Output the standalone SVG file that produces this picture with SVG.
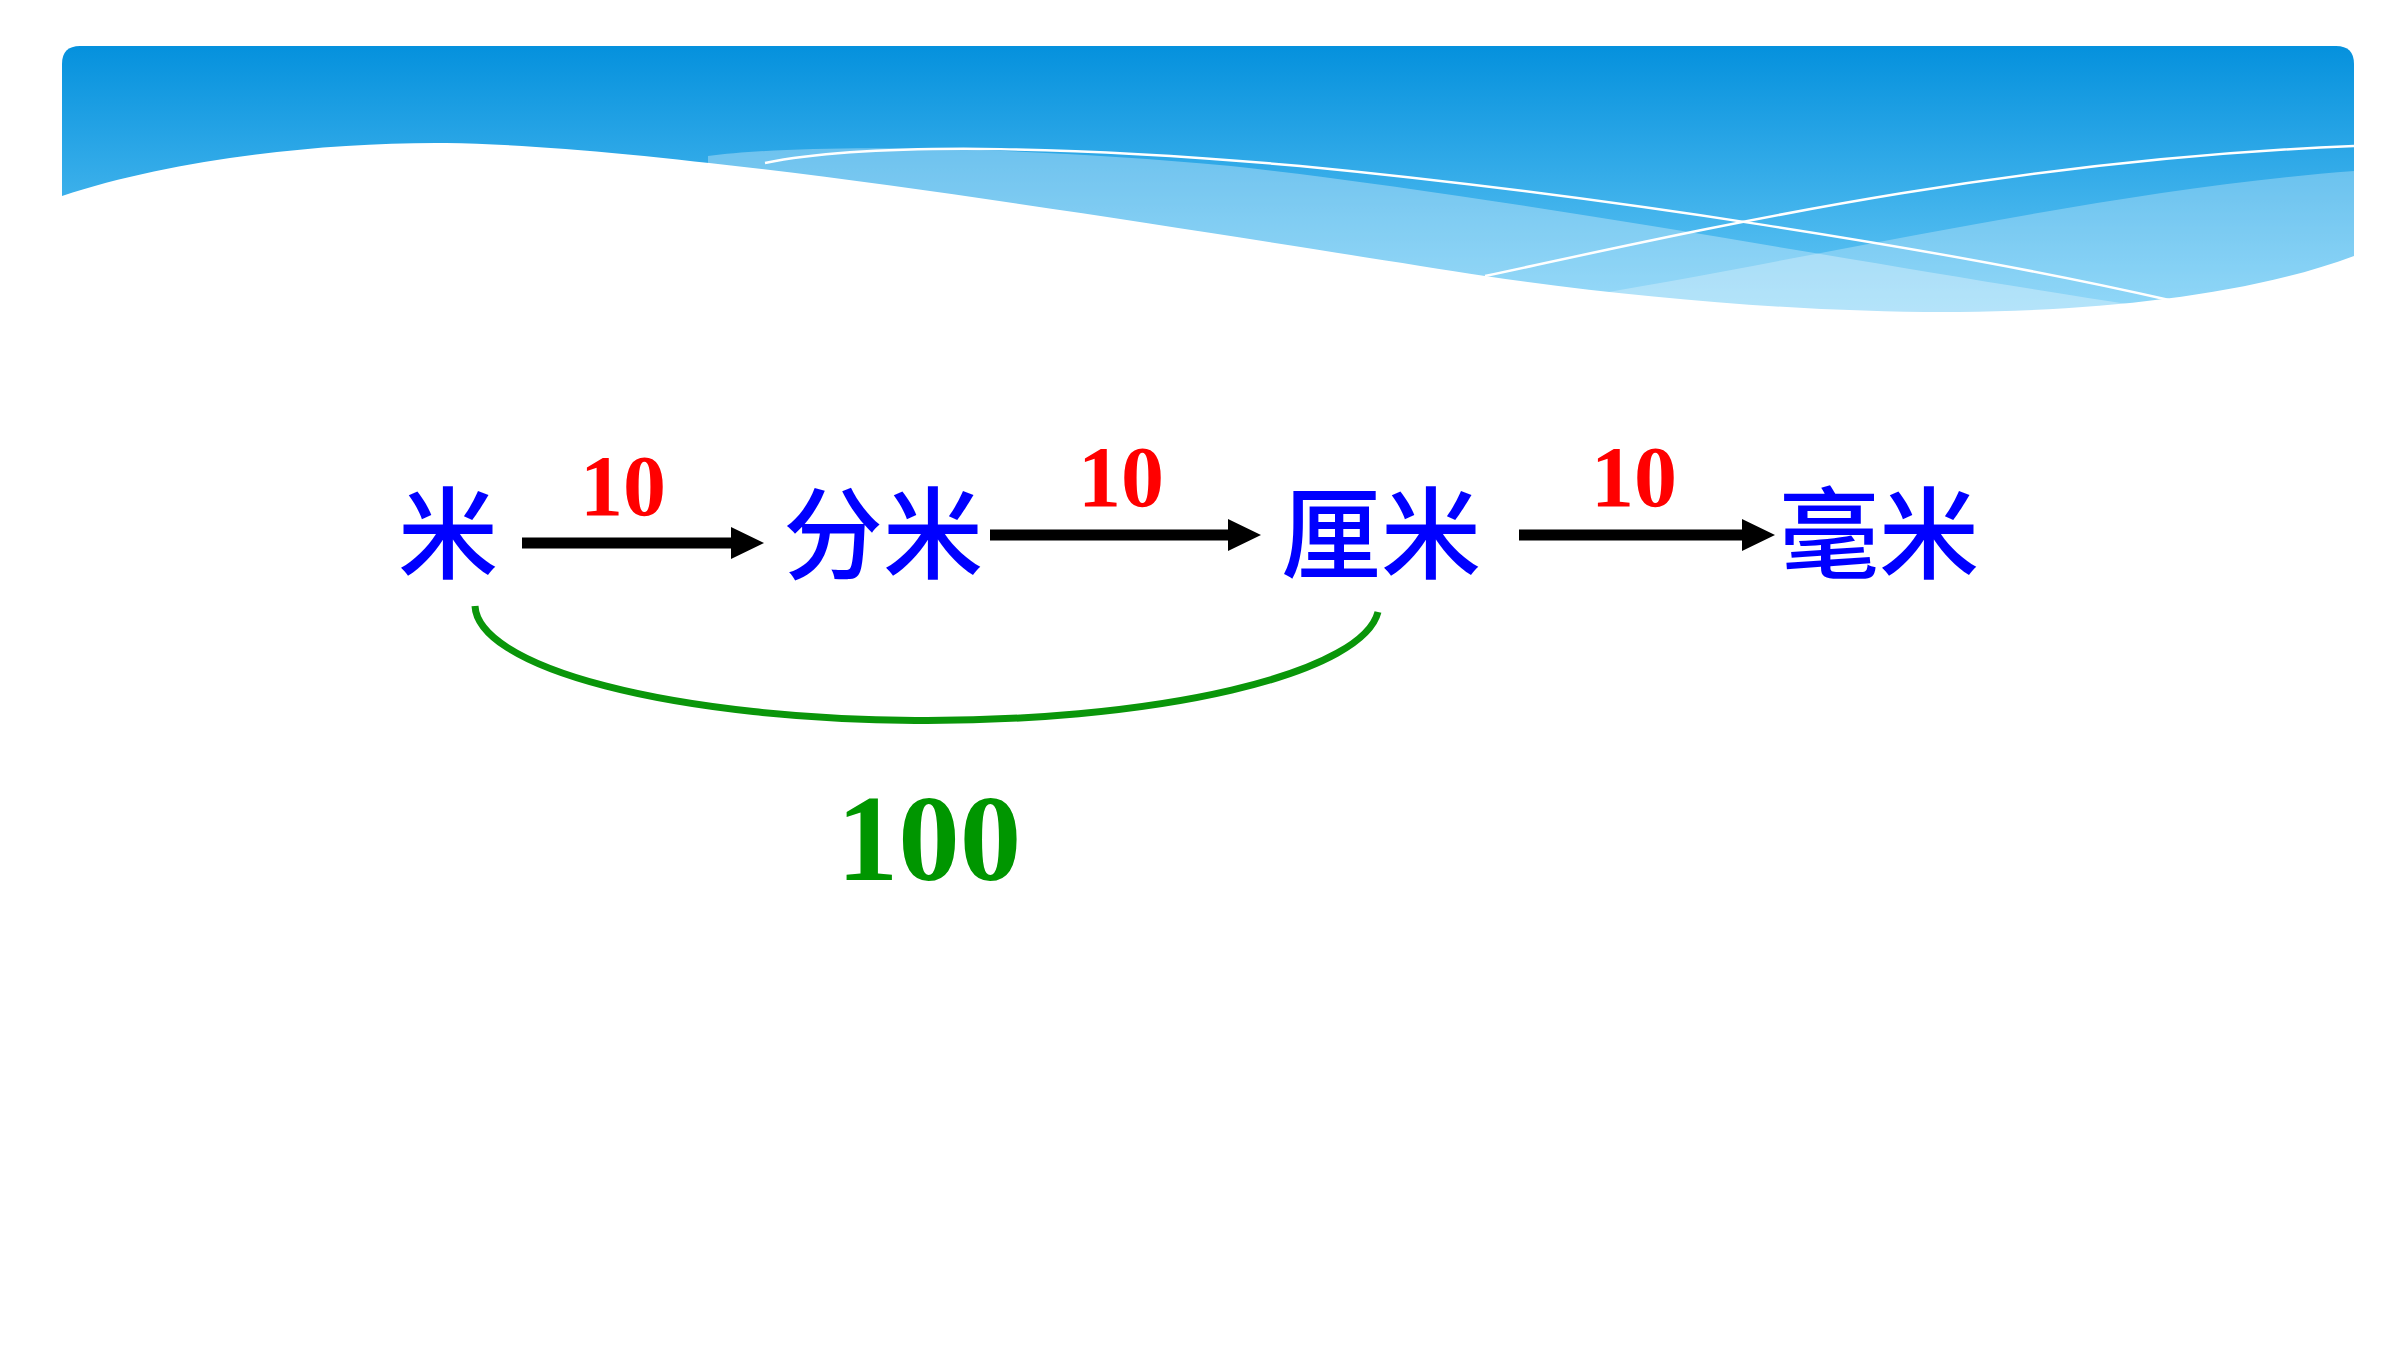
<svg xmlns="http://www.w3.org/2000/svg" width="2400" height="1350" viewBox="0 0 2400 1350">
<style>
.node{font-family:"Noto Sans CJK SC","Noto Sans",sans-serif;font-size:100px;font-weight:500;fill:#0000FF;text-anchor:middle}
.lbl{font-family:"Liberation Serif","Times New Roman",serif;font-weight:700;text-anchor:middle}
.red{fill:#FF0000;font-size:86px}
.grn{fill:#009600;font-size:123px}
.arrow{stroke:#000;stroke-width:11;fill:none;marker-end:url(#ah)}
.wline{stroke:#FFFFFF;stroke-width:2.5;fill:none}
</style>
<defs>
<linearGradient id="sky" x1="0" y1="46" x2="0" y2="320" gradientUnits="userSpaceOnUse">
<stop offset="0" stop-color="#0591DD"/>
<stop offset="1" stop-color="#6ACAF6"/>
</linearGradient>
<marker id="ah" markerUnits="userSpaceOnUse" markerWidth="34" markerHeight="34" refX="3" refY="16" orient="auto">
<path d="M0,0 L33,16 L0,32 Z" fill="#000"/>
</marker>
</defs>
<rect width="2400" height="1350" fill="#FFFFFF"/>
<g id="header">
<path d="M62,340 L62,64 Q62,46 80,46 L2336,46 Q2354,46 2354,64 L2354,340 Z" fill="url(#sky)"/>
<path d="M708,156 C800,144 1000,145 1231,166 C1500,195 1900,270 2140,306 L2140,340 L708,340 Z" fill="#FFFFFF" fill-opacity="0.32"/>
<path d="M1560,300 C1800,262 2100,190 2354,171 L2354,340 L1560,340 Z" fill="#FFFFFF" fill-opacity="0.28"/>
<path class="wline" d="M765,163 C880,140 1100,148 1300,166 C1600,195 1950,250 2169,300"/>
<path class="wline" d="M1485,276 C1700,230 2000,160 2354,146"/>
<path d="M62,196 C170,160 320,142 446,143 C700,146 1250,240 1485,276 C1650,300 1820,313 1959,312 C2100,311 2250,295 2354,256 L2354,360 L62,360 Z" fill="#FFFFFF"/>
</g>
<g id="connectors">
<line class="arrow" x1="522" y1="543" x2="734" y2="543"/>
<line class="arrow" x1="990" y1="535" x2="1231" y2="535"/>
<line class="arrow" x1="1519" y1="535" x2="1745" y2="535"/>
<path d="M475,606 A452,116 0 0 0 1378,612" fill="none" stroke="#0A960A" stroke-width="7"/>
</g>
<g id="node-mi"><text class="node" x="448" y="571">米</text></g>
<g id="node-fenmi"><text class="node" x="883" y="571">分米</text></g>
<g id="node-limi"><text class="node" x="1381" y="571">厘米</text></g>
<g id="node-haomi"><text class="node" x="1879" y="571">毫米</text></g>
<g id="label-1"><text class="lbl red" x="623" y="515">10</text></g>
<g id="label-2"><text class="lbl red" x="1121" y="506">10</text></g>
<g id="label-3"><text class="lbl red" x="1634" y="506">10</text></g>
<g id="label-100"><text class="lbl grn" x="929" y="880">100</text></g>
</svg>
